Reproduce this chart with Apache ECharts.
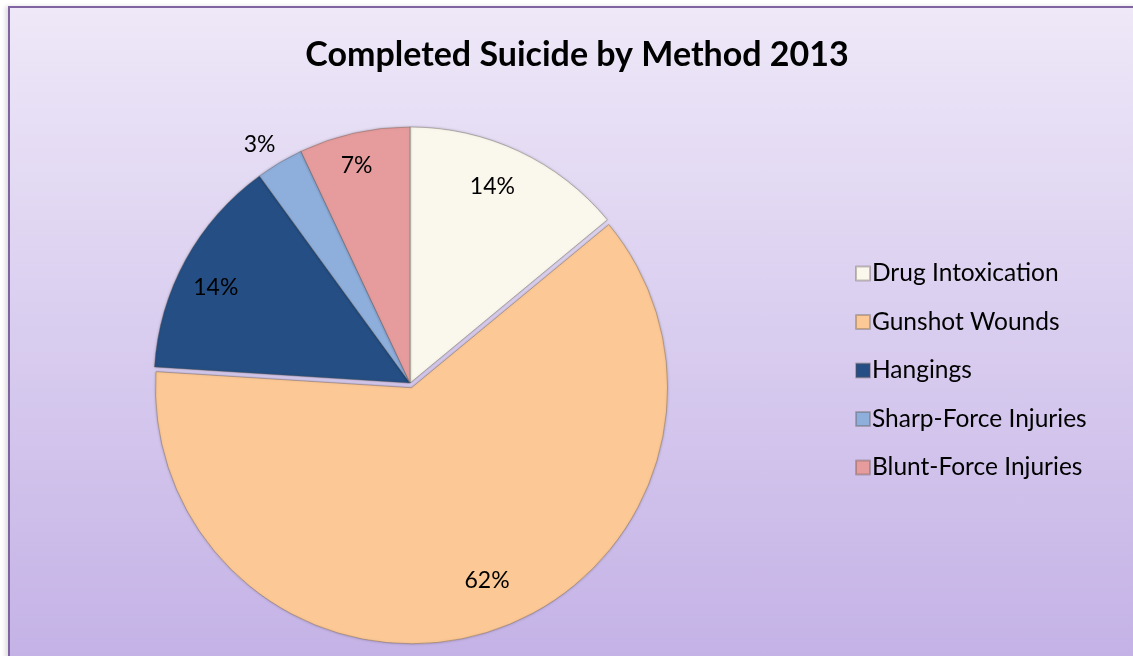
<!DOCTYPE html>
<html>
<head>
<meta charset="utf-8">
<script src="https://cdn.jsdelivr.net/npm/echarts@6/dist/echarts.min.js"></script>
<style>
html,body{margin:0;padding:0;background:#fff;overflow:hidden;}
#bg{position:absolute;left:8px;top:6px;width:1300px;height:800px;
  border-top:2px solid #8064A2;border-left:2px solid #8064A2;
  background:linear-gradient(to bottom,#EEE8F8 0px,#C4B2E6 650px);
  box-shadow:-3px 0 4px rgba(0,0,0,0.12);}
#chart{position:absolute;left:0;top:0;width:1133px;height:656px;}
</style>
</head>
<body>
<div id="bg"></div>
<div id="chart"></div>
<script>
const titleText = 'Completed Suicide by Method 2013';
const categories = ['Drug Intoxication', 'Gunshot Wounds', 'Hangings', 'Sharp-Force Injuries', 'Blunt-Force Injuries'];
const values = [14, 62, 14, 3, 7];
const colors = ['#FAF7EC', '#FCC895', '#254F84', '#8EAEDC', '#E69C9D'];

const chart = echarts.init(document.getElementById('chart'), null, {renderer: 'canvas'});
const FONT = 'Lato, "Open Sans", sans-serif';

const pieData = categories.map((c, i) => ({
  name: c,
  value: values[i],
  selected: i === 1,
  itemStyle: {color: colors[i]}
}));
const labelData = categories.map((c, i) => {
  const d = {name: c, value: values[i]};
  if (i === 3) {
    d.label = {position: 'outside'};
    d.labelLine = {show: false, length: 22, length2: 0};
  }
  return d;
});
// small label nudges (pixels) to mimic the original best-fit placement
const labelNudge = [[-10, 0], [10, -9], [-4, 9], [12, 1], [-6, -6]];

chart.setOption({
  backgroundColor: 'transparent',
  animation: false,
  title: {
    text: titleText,
    left: 572,
    textAlign: 'center',
    top: 33,
    textStyle: {fontFamily: FONT, fontWeight: 'bold', fontSize: 34, color: '#000'}
  },
  legend: {
    orient: 'vertical',
    left: 850,
    top: 256,
    itemWidth: 14,
    itemHeight: 14,
    itemGap: 23.5,
    icon: 'rect',
    selectedMode: false,
    textStyle: {fontFamily: FONT, fontSize: 24.5, lineHeight: 24, color: '#000', padding: [0, 0, 0, -3]},
    data: categories
  },
  series: [{
    type: 'pie',
    center: [410, 383],
    radius: [0, 256],
    startAngle: 90,
    selectedMode: 'single',
    selectedOffset: 5,
    label: {show: false},
    labelLine: {show: false},
    emphasis: {disabled: true},
    itemStyle: {borderColor: 'rgba(90,80,70,0.35)', borderWidth: 1, shadowBlur: 3, shadowColor: 'rgba(0,0,0,0.25)'},
    data: pieData
  }, {
    type: 'pie',
    center: [410, 383],
    radius: [172, 256],
    startAngle: 90,
    silent: true,
    legendHoverLink: false,
    itemStyle: {color: 'rgba(0,0,0,0)'},
    label: {
      show: true,
      position: 'inside',
      formatter: '{d}%',
      fontFamily: FONT,
      fontSize: 23,
      color: '#000'
    },
    labelLine: {show: false},
    labelLayout: function (p) {
      const n = labelNudge[p.dataIndex];
      return {dx: n[0], dy: n[1]};
    },
    emphasis: {disabled: true},
    data: labelData
  }]
});
</script>
</body>
</html>
